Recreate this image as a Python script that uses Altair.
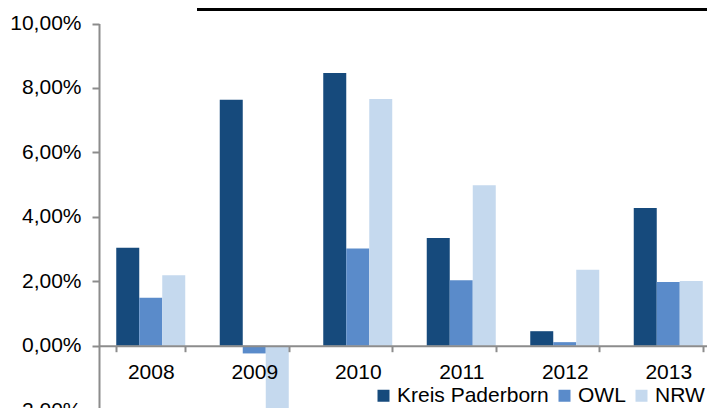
import altair as alt
import pandas as pd

years = ["2008", "2009", "2010", "2011", "2012", "2013"]
series = ["Kreis Paderborn", "OWL", "NRW"]
kreis = [3.04, 7.63, 8.46, 3.34, 0.45, 4.27]
owl = [1.49, -0.24, 3.02, 2.03, 0.11, 1.98]
nrw = [2.19, -2.07, 7.66, 4.98, 2.36, 2.01]
colors = ["#164A7C", "#5A8BCA", "#C5D9EE"]
y_ticks = [-2, 0, 2, 4, 6, 8, 10]

rows = []
for name, vals in zip(series, [kreis, owl, nrw]):
    for yr, v in zip(years, vals):
        rows.append({"Jahr": yr, "Serie": name, "Wert": v})
df = pd.DataFrame(rows)

FONT = "Liberation Sans"
GRAY = "#8c8c8c"
W, H = 608, 400
zero_y = 337.7
top_y = 15.5
px_per = (zero_y - top_y) / 10.0
y_range = [zero_y + 2 * px_per, top_y]

bars = alt.Chart(df).mark_bar().encode(
    x=alt.X(
        "Jahr:N", sort=years,
        scale=alt.Scale(range=[0, 621], paddingInner=1 / 3, paddingOuter=1 / 6),
        axis=alt.Axis(
            title=None, orient="bottom", offset=zero_y - H, labelAngle=0,
            labelFontSize=21, labelFont=FONT, labelColor="#000",
            domainColor=GRAY, domainWidth=2, tickColor=GRAY, tickWidth=2,
            tickSize=6, tickBand="extent", labelPadding=10, zindex=1,
        ),
    ),
    xOffset=alt.XOffset("Serie:N", sort=series,
                        scale=alt.Scale(paddingInner=0, paddingOuter=0)),
    y=alt.Y(
        "Wert:Q",
        scale=alt.Scale(domain=[-2, 10], range=y_range, nice=False, zero=False),
        axis=alt.Axis(
            title=None, values=y_ticks, grid=False,
            labelExpr="replace(replace(format(datum.value, '.2f'), '.', ','), '\u2212', '-') + '%'",
            labelFontSize=21, labelFont=FONT, labelColor="#000",
            domainColor=GRAY, domainWidth=2, tickColor=GRAY, tickWidth=2,
            tickSize=7, labelPadding=11, zindex=1,
        ),
    ),
    color=alt.Color(
        "Serie:N", sort=series,
        scale=alt.Scale(domain=series, range=colors),
        legend=alt.Legend(
            title=None, orient="none", legendX=274, legendY=377, padding=0,
            direction="horizontal", symbolType="square", symbolSize=144,
            symbolStrokeWidth=0, labelFontSize=21, labelFont=FONT,
            labelColor="#000", columnPadding=5, labelOffset=3,
        ),
    ),
)

top_line = alt.Chart(pd.DataFrame({"a": [0]})).mark_rule(
    color="black", strokeWidth=3
).encode(x=alt.value(98), x2=alt.value(620), y=alt.value(1.5))

chart = alt.layer(bars, top_line).properties(
    width=W, height=H,
    autosize=alt.AutoSizeParams(type="none"),
    padding={"left": 91, "top": 0, "right": 0, "bottom": 0},
).configure_view(stroke=None)

chart.save("out.html", embed_options={"renderer": "svg", "actions": False})
